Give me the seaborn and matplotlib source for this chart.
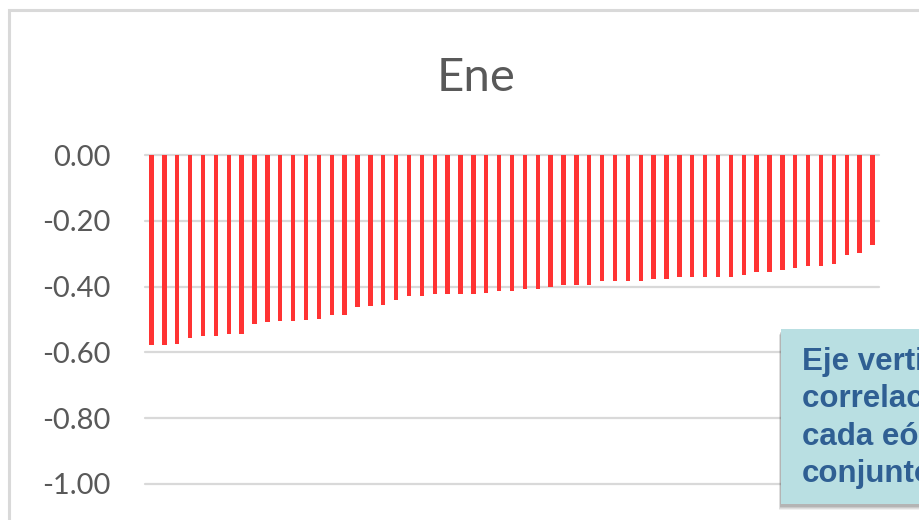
import matplotlib
matplotlib.use("Agg")
import matplotlib.pyplot as plt
from matplotlib.patches import Rectangle
import seaborn as sns
import pandas as pd

# Correlation of each wind farm with the aggregate, January
farm_rank = list(range(1, 58))
corr_values = [
    -0.578, -0.578, -0.573, -0.555, -0.550, -0.550, -0.544, -0.544, -0.515, -0.509,
    -0.504, -0.504, -0.502, -0.498, -0.487, -0.487, -0.463, -0.458, -0.457, -0.441,
    -0.429, -0.429, -0.424, -0.424, -0.424, -0.424, -0.418, -0.412, -0.412, -0.406,
    -0.406, -0.401, -0.395, -0.395, -0.395, -0.384, -0.384, -0.384, -0.384, -0.378,
    -0.378, -0.371, -0.371, -0.371, -0.371, -0.371, -0.366, -0.355, -0.355, -0.349,
    -0.343, -0.338, -0.338, -0.332, -0.303, -0.297, -0.274,
]
y_ticks = [0.0, -0.2, -0.4, -0.6, -0.8, -1.0]
title_text = "Ene"
note_lines = ["Eje vertical:", "correlación de", "cada eólica con el", "conjunto"]

df = pd.DataFrame({"rank": farm_rank, "corr": corr_values})

sns.set_theme(style="white")
plt.rcParams["font.family"] = ["Lato", "DejaVu Sans"]

fig = plt.figure(figsize=(9.2, 5.2), dpi=100)
fig.patch.set_facecolor("white")

# chart area border (light gray frame)
fig.patches.append(Rectangle((8.5 / 920, -0.2), 1.2, 1.2 - 10 / 520,
                             transform=fig.transFigure, fill=False,
                             edgecolor="#d9d9d9", linewidth=2.2, zorder=0))

ax = fig.add_axes([145 / 920, 1 - 484 / 520, 734 / 920, (484 - 155) / 520])
sns.barplot(data=df, x="rank", y="corr", color="#ff3333", saturation=1,
            width=0.34, linewidth=0, ax=ax, zorder=3)

ax.set_ylim(-1.0, 0.0)
ax.set_xlim(-0.5, len(farm_rank) - 0.5)
ax.set_yticks(y_ticks)
ax.set_yticklabels([f"{t:.2f}" for t in y_ticks], color="#595959", fontsize=21)
ax.tick_params(axis="y", length=0, pad=25)
ax.set_xticks([])
ax.set_xlabel("")
ax.set_ylabel("")
for s in ax.spines.values():
    s.set_visible(False)
for t in y_ticks:
    ax.axhline(t, color="#d9d9d9", linewidth=1.6, zorder=1, clip_on=False)

fig.text(476 / 920, 1 - 91 / 520, title_text, ha="center", va="baseline",
         fontsize=34, color="#595959")

# note box with soft shadow
bx, by_top, by_bot = 781, 329, 504
for i, a in enumerate([0.08, 0.10, 0.13, 0.16]):
    off = 4 - i
    fig.patches.append(Rectangle(((bx - 2 + i * 0.5) / 920, 1 - (by_bot + off + 2) / 520),
                                 0.4, (by_bot - by_top) / 520,
                                 transform=fig.transFigure, facecolor="#444444",
                                 edgecolor="none", alpha=a, zorder=5))
fig.patches.append(Rectangle((bx / 920, 1 - by_bot / 520), 0.4, (by_bot - by_top) / 520,
                             transform=fig.transFigure, facecolor="#b9dfe2",
                             edgecolor="none", zorder=6))
for i, line in enumerate(note_lines):
    fig.text(802 / 920, 1 - (370 + 37.3 * i) / 520, line, ha="left", va="baseline",
             fontsize=22.5, fontweight="bold", color="#2f5f93",
             family=["Liberation Sans", "DejaVu Sans"], zorder=7)

fig.savefig("out.png", dpi=100)
